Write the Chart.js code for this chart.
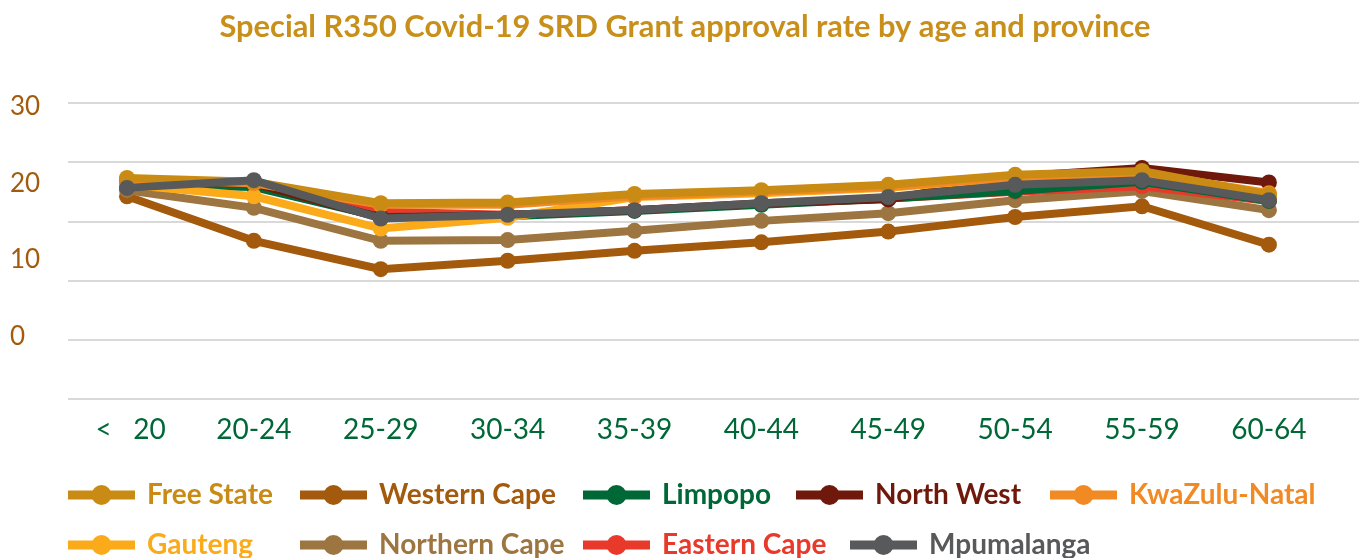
<!DOCTYPE html>
<html><head><meta charset="utf-8">
<script src="https://cdn.jsdelivr.net/npm/chart.js@4.4.0/dist/chart.umd.min.js"></script>
<style>html,body{margin:0;padding:0;background:#fff;} #wrap{width:1367px;height:558px;position:relative;}</style>
</head><body><div id="wrap"><canvas id="c"></canvas></div>
<script>
const categories = [' <   20','20-24','25-29','30-34','35-39','40-44','45-49','50-54','55-59','60-64'];
const yTickValues = [0, 10, 20, 30];

const freeState     = [20.7, 20.2, 17.4, 17.5, 18.6, 19.1, 19.8, 21.1, 21.6, 18.5];
const westernCape   = [18.3, 12.5,  8.8,  9.9, 11.2, 12.3, 13.7, 15.6, 17.0, 12.0];
const limpopo       = [19.8, 19.5, 15.6, 15.7, 16.4, 17.2, 18.0, 19.0, 20.2, 17.7];
const northWest     = [20.4, 20.0, 15.5, 15.9, 16.5, 17.4, 17.9, 20.9, 22.0, 20.1];
const kwaZuluNatal  = [20.5, 20.0, 17.2, 17.2, 18.3, 18.9, 19.5, 20.8, 21.4, 18.7];
const gauteng       = [19.8, 18.3, 14.1, 15.5, 18.2, 18.7, 19.4, 20.7, 21.3, 18.2];
const northernCape  = [19.1, 16.8, 12.5, 12.6, 13.8, 15.1, 16.1, 17.8, 19.0, 16.5];
const easternCape   = [20.0, 19.9, 16.3, 15.9, 16.5, 17.3, 18.0, 18.9, 19.6, 17.7];
const mpumalanga    = [19.4, 20.4, 15.4, 15.9, 16.5, 17.4, 18.2, 19.8, 20.4, 17.8];

const seriesNames  = ['Free State','Western Cape','Limpopo','North West','KwaZulu-Natal','Gauteng','Northern Cape','Eastern Cape','Mpumalanga'];
const seriesValues = [freeState, westernCape, limpopo, northWest, kwaZuluNatal, gauteng, northernCape, easternCape, mpumalanga];
const seriesColors = ['#C98B13','#A35A0C','#006837','#6E190B','#F28A24','#FBAA1A','#9C7540','#E8392A','#58595B'];
const drawOrder    = [1, 8, 5, 4, 2, 3, 7, 6, 0];

// legend layout (row, x start) per series
const legendRow = [0,0,0,0,0,1,1,1,1];
const legendX   = [68,300,583,796,1050,68,300,583,850];
const legendY   = [495,545];

const FONT = 'Lato, "Open Sans", sans-serif';

const datasets = seriesNames.map((name, k) => ({
  label: name,
  data: seriesValues[k].map((v, i) => ({x: i, y: v})),
  borderColor: seriesColors[k],
  backgroundColor: seriesColors[k],
  pointBackgroundColor: seriesColors[k],
  pointBorderColor: seriesColors[k],
  borderWidth: 8,
  pointRadius: 8,
  pointBorderWidth: 0,
  tension: 0,
  order: drawOrder[k],
  yAxisID: 'y',
  xAxisID: 'x'
}));

const legendPlugin = {
  id: 'customLegend',
  afterDraw(chart) {
    const ctx = chart.ctx;
    ctx.save();
    chart.data.datasets.forEach((ds, k) => {
      const x0 = legendX[k];
      const y0 = legendY[legendRow[k]];
      ctx.strokeStyle = ds.borderColor;
      ctx.lineWidth = 9;
      ctx.beginPath();
      ctx.moveTo(x0, y0);
      ctx.lineTo(x0 + 67, y0);
      ctx.stroke();
      ctx.fillStyle = ds.borderColor;
      ctx.beginPath();
      ctx.arc(x0 + 33.5, y0, 10, 0, Math.PI * 2);
      ctx.fill();
      ctx.font = 'bold 28px ' + FONT;
      ctx.textBaseline = 'middle';
      ctx.textAlign = 'left';
      ctx.fillText(ds.label, x0 + 79, y0);
    });
    ctx.restore();
  }
};

new Chart(document.getElementById('c'), {
  type: 'line',
  data: { datasets },
  options: {
    responsive: true,
    maintainAspectRatio: false,
    animation: false,
    layout: { padding: { left: 10, right: 7, top: 0, bottom: 111 } },
    plugins: {
      legend: { display: false },
      tooltip: { enabled: false },
      title: {
        display: true,
        text: 'Special R350 Covid-19 SRD Grant approval rate by age and province',
        color: '#C8901A',
        font: { family: FONT, size: 30.8, weight: 'bold' },
        padding: { top: 9, bottom: 57.3 }
      }
    },
    scales: {
      x: {
        type: 'linear',
        min: -0.465,
        max: 9.71,
        grid: { display: false, drawTicks: false, tickLength: 0 },
        border: { display: false },
        afterFit: (s) => { s.height = 48; },
        ticks: {
          stepSize: 1,
          includeBounds: false,
          autoSkip: false,
          maxRotation: 0,
          padding: 14,
          color: '#006837',
          font: { family: FONT, size: 28 },
          callback: (v) => (Number.isInteger(v) && categories[v] !== undefined) ? categories[v] : ''
        }
      },
      y: {
        position: 'left',
        min: -8.12,
        max: 30.43,
        grid: { display: false, drawTicks: false, tickLength: 0 },
        border: { display: false },
        afterFit: (s) => { s.width = 58; },
        afterBuildTicks: (s) => { s.ticks = yTickValues.map(v => ({ value: v })); },
        ticks: {
          crossAlign: 'far',
          color: '#A35A0C',
          font: { family: FONT, size: 26 },
          callback: (v) => String(v)
        }
      },
      yGrid: {
        position: 'right',
        min: 0,
        max: 5,
        afterFit: (s) => { s.width = 0; },
        grid: { display: true, color: '#D9D9D9', lineWidth: 2, drawTicks: false },
        border: { display: false },
        ticks: { display: false, stepSize: 1 }
      }
    }
  },
  plugins: [legendPlugin]
});
</script>
</body></html>
